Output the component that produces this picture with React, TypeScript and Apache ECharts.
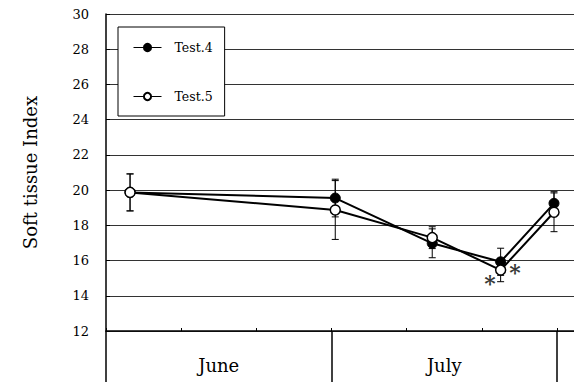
import React, { useEffect, useRef } from "react";
import * as echarts from "echarts";

const days = [3.2, 30.5, 43.4, 52.5, 59.6];
const test4 = [19.87, 19.55, 16.98, 15.93, 19.25];
const test5 = [19.87, 18.87, 17.3, 15.46, 18.74];
const test4Err = [1.05, 1.07, 0.82, 0.77, 0.66];
const test5Err = [1.05, 1.67, 0.62, 0.66, 1.1];
const months = ["June", "July"];
const starPoints = [
  [51.1, 15.0],
  [54.4, 15.65],
];

const FONT = "DejaVu Serif";

export default function App() {
  const ref = useRef<HTMLDivElement>(null);
  useEffect(() => {
    if (!ref.current) return;
    const chart = echarts.init(ref.current, undefined, { renderer: "svg" });
    const errData = (vals: number[], errs: number[]) =>
      days.map((d, i) => [d, vals[i] - errs[i], vals[i] + errs[i]]);
    const errSeries = (name: string, vals: number[], errs: number[]) => ({
      type: "custom",
      name: name + "err",
      xAxisIndex: 0,
      yAxisIndex: 0,
      z: 1,
      data: errData(vals, errs),
      renderItem: (params: any, api: any) => {
        const x = api.value(0);
        const lo = api.coord([x, api.value(1)]);
        const hi = api.coord([x, api.value(2)]);
        const w = 3.5;
        const style = { stroke: "#000", lineWidth: 1 };
        return {
          type: "group",
          children: [
            { type: "line", shape: { x1: lo[0], y1: lo[1], x2: hi[0], y2: hi[1] }, style },
            { type: "line", shape: { x1: lo[0] - w, y1: lo[1], x2: lo[0] + w, y2: lo[1] }, style },
            { type: "line", shape: { x1: hi[0] - w, y1: hi[1], x2: hi[0] + w, y2: hi[1] }, style },
          ],
        };
      },
    });
    const option: any = {
      animation: false,
      backgroundColor: "#fff",
      textStyle: { fontFamily: FONT },
      grid: [
        { left: 106, right: 0, top: 14, bottom: 51 },
        { left: 106, right: 17, top: 14, bottom: 51 },
      ],
      legend: {
        orient: "vertical",
        left: 118,
        top: 27,
        padding: [14, 12, 13, 15],
        itemGap: 36,
        itemWidth: 28,
        itemHeight: 9,
        backgroundColor: "#fff",
        borderColor: "#000",
        borderWidth: 1,
        data: ["Test.4", "Test.5"],
        lineStyle: { width: 1 },
        textStyle: { fontFamily: FONT, fontSize: 12.5, color: "#000", padding: [0, 0, 0, 8] },
      },
      xAxis: [
        {
          type: "value",
          gridIndex: 0,
          min: 0,
          max: 62.26,
          interval: 10,
          axisLine: { show: true, lineStyle: { color: "#000", width: 1.5 } },
          axisTick: { show: true, inside: true, length: 3, lineStyle: { color: "#000", width: 1 } },
          axisLabel: { show: false },
          splitLine: { show: false },
        },
        {
          type: "category",
          gridIndex: 1,
          data: months,
          position: "bottom",
          boundaryGap: true,
          axisLine: { show: false },
          axisTick: { show: true, length: 51, lineStyle: { color: "#000", width: 1.5 } },
          axisLabel: { fontFamily: FONT, fontSize: 18, color: "#000", margin: 25 },
          splitLine: { show: false },
        },
      ],
      yAxis: [
        {
          type: "value",
          gridIndex: 0,
          min: 12,
          max: 30,
          interval: 2,
          name: "Soft tissue Index",
          nameLocation: "middle",
          nameGap: 67,
          nameTextStyle: { fontFamily: FONT, fontSize: 18, color: "#000" },
          axisLine: { show: true, lineStyle: { color: "#000", width: 1.5 } },
          axisTick: { show: true, inside: true, length: 4, lineStyle: { color: "#000", width: 1 } },
          axisLabel: { fontFamily: FONT, fontSize: 13, color: "#000", margin: 17 },
          splitLine: { show: true, lineStyle: { color: "#333", width: 1 } },
        },
        { type: "value", gridIndex: 1, min: 0, max: 1, show: false },
      ],
      series: [
        errSeries("Test.4", test4, test4Err),
        errSeries("Test.5", test5, test5Err),
        {
          type: "line",
          name: "Test.4",
          z: 3,
          data: days.map((d, i) => [d, test4[i]]),
          symbol: "circle",
          symbolSize: 10,
          lineStyle: { color: "#000", width: 2 },
          itemStyle: { color: "#000", borderColor: "#000", borderWidth: 1 },
        },
        {
          type: "line",
          name: "Test.5",
          z: 4,
          data: days.map((d, i) => [d, test5[i]]),
          symbol: "circle",
          symbolSize: 10,
          lineStyle: { color: "#000", width: 2 },
          itemStyle: { color: "#fff", borderColor: "#000", borderWidth: 1.5 },
        },
        {
          type: "scatter",
          name: "stars",
          z: 5,
          symbolSize: 0,
          data: starPoints,
          label: {
            show: true,
            position: "inside",
            formatter: "*",
            fontFamily: FONT,
            fontSize: 22,
            fontWeight: "bold",
            color: "#000",
            offset: [0, 5],
          },
        },
      ],
    };
    chart.setOption(option);
    return () => chart.dispose();
  }, []);
  return (
    <div
      ref={ref}
      style={{ position: "fixed", left: 0, top: 0, width: 574, height: 382 }}
    />
  );
}
